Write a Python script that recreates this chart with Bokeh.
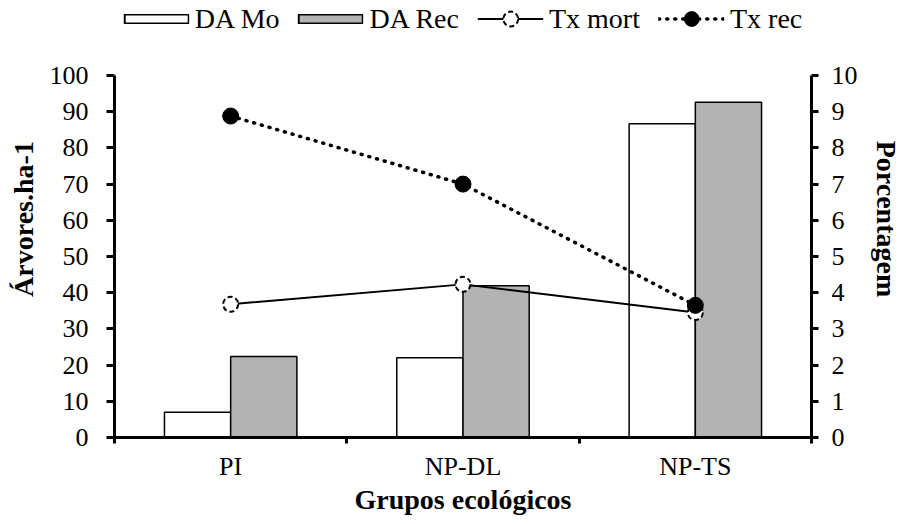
from bokeh.plotting import figure
from bokeh.models import (Range1d, LinearAxis, FixedTicker, Legend, LegendItem,
                          ColumnDataSource)
from bokeh.transform import dodge
from bokeh.embed import file_html
from bokeh.resources import INLINE

# ---- data ----
categories = ["PI", "NP-DL", "NP-TS"]
da_mo = [7.0, 22.0, 86.7]
da_rec = [22.4, 41.9, 92.6]
tx_mort = [3.68, 4.23, 3.45]
tx_rec = [8.88, 7.0, 3.65]
left_ticks = [0, 10, 20, 30, 40, 50, 60, 70, 80, 90, 100]
right_ticks = [0, 1, 2, 3, 4, 5, 6, 7, 8, 9, 10]
series_names = ["DA Mo", "DA Rec", "Tx mort", "Tx rec"]

FONT = "Liberation Serif"
TICK_FS = "26px"
LEG_FS = "28px"
LABEL_FS = "28px"
GRAY = "#b3b3b3"

# frame extends above the value 100 to hold the legend (axes bounded to data)
FRAME_H = 437
PLOT_H = 362           # pixels between 0 and 100
top_left = 100 * FRAME_H / PLOT_H
top_right = 10 * FRAME_H / PLOT_H

x_center = [i + 0.5 for i in range(len(categories))]
bounds = [float(i) for i in range(len(categories) + 1)]
src = ColumnDataSource(dict(x=x_center, da_mo=da_mo, da_rec=da_rec,
                            tx_mort=tx_mort, tx_rec=tx_rec))

p = figure(frame_width=697, frame_height=FRAME_H,
           min_border_left=114, min_border_right=84,
           min_border_top=0, min_border_bottom=85,
           x_range=Range1d(0, len(categories)), y_range=Range1d(0, top_left),
           output_backend="svg", toolbar_location=None,
           x_axis_location=None, y_axis_location=None)
p.extra_y_ranges = {"pct": Range1d(0, top_right)}
p.grid.visible = False
p.outline_line_color = None
p.background_fill_color = "white"
p.border_fill_color = "white"

bw = 0.285
b1 = p.vbar(x=dodge("x", -bw / 2), top="da_mo", width=bw, source=src,
            fill_color="white", line_color="black", line_width=1.5)
b2 = p.vbar(x=dodge("x", bw / 2), top="da_rec", width=bw, source=src,
            fill_color=GRAY, line_color="black", line_width=1.5)

l1 = p.line("x", "tx_mort", source=src, y_range_name="pct",
            line_color="black", line_width=2)
s1 = p.scatter("x", "tx_mort", source=src, y_range_name="pct", marker="circle",
               size=15, fill_color="white", line_color="black", line_width=2,
               line_dash="5 3")
l2 = p.line("x", "tx_rec", source=src, y_range_name="pct",
            line_color="black", line_width=3.5, line_dash="1 7",
            line_cap="round")
s2 = p.scatter("x", "tx_rec", source=src, y_range_name="pct", marker="circle",
               size=16, fill_color="black", line_color="black", line_width=1)

# legend-only swatches for the bar series (thin outlined boxes); NaN data
# so nothing is drawn in the plot area itself
GW = 66
nan = float("nan")
key_src = ColumnDataSource(dict(x=[nan, nan], y=[nan, nan]))
k1o = p.line("x", "y", source=key_src, line_color="black", line_width=10)
k1i = p.line("x", "y", source=key_src, line_color="white", line_width=7,
             line_dash=f"0 2 {GW - 4} 200")
k2o = p.line("x", "y", source=key_src, line_color="black", line_width=10)
k2i = p.line("x", "y", source=key_src, line_color=GRAY, line_width=7,
             line_dash=f"0 2 {GW - 4} 200")

def style_axis(ax, tick_out):
    ax.axis_line_width = 3
    ax.axis_line_color = "black"
    ax.major_tick_line_width = 3
    ax.major_tick_in = 0
    ax.major_tick_out = tick_out
    ax.minor_tick_line_color = None
    ax.major_label_text_font = FONT
    ax.major_label_text_font_size = TICK_FS
    ax.major_label_text_color = "black"
    ax.axis_label_text_font = FONT
    ax.axis_label_text_font_size = LABEL_FS
    ax.axis_label_text_font_style = "bold"
    ax.axis_label_text_color = "black"

ly = LinearAxis(ticker=FixedTicker(ticks=left_ticks), axis_label="Árvores.ha-1",
                bounds=(left_ticks[0], left_ticks[-1]))
style_axis(ly, 8)
ly.major_label_standoff = 18
ly.axis_label_standoff = 8
p.add_layout(ly, "left")

ry = LinearAxis(y_range_name="pct", ticker=FixedTicker(ticks=right_ticks),
                axis_label="Porcentagem", bounds=(right_ticks[0], right_ticks[-1]))
style_axis(ry, 7)
ry.major_label_standoff = 13
ry.axis_label_standoff = 10
p.add_layout(ry, "right")

bx = LinearAxis(ticker=FixedTicker(ticks=x_center, minor_ticks=bounds),
                axis_label="Grupos ecológicos",
                major_label_overrides={xc: c for xc, c in zip(x_center, categories)})
style_axis(bx, 0)
bx.major_tick_line_color = None
bx.minor_tick_line_color = "black"
bx.minor_tick_line_width = 3
bx.minor_tick_in = 0
bx.minor_tick_out = 6
bx.major_label_standoff = 8
bx.axis_label_standoff = 0
p.add_layout(bx, "below")

legend = Legend(items=[LegendItem(label=series_names[0], renderers=[k1o, k1i]),
                       LegendItem(label=series_names[1], renderers=[k2o, k2i]),
                       LegendItem(label=series_names[2], renderers=[l1, s1]),
                       LegendItem(label=series_names[3], renderers=[l2, s2])],
                location="top_center", orientation="horizontal",
                glyph_width=GW, glyph_height=37, spacing=18,
                label_standoff=6, padding=0, margin=0,
                border_line_color=None, background_fill_alpha=0,
                label_text_font=FONT, label_text_font_size=LEG_FS,
                label_text_color="black")
p.add_layout(legend)

open("out.html", "w").write(file_html(p, INLINE))
